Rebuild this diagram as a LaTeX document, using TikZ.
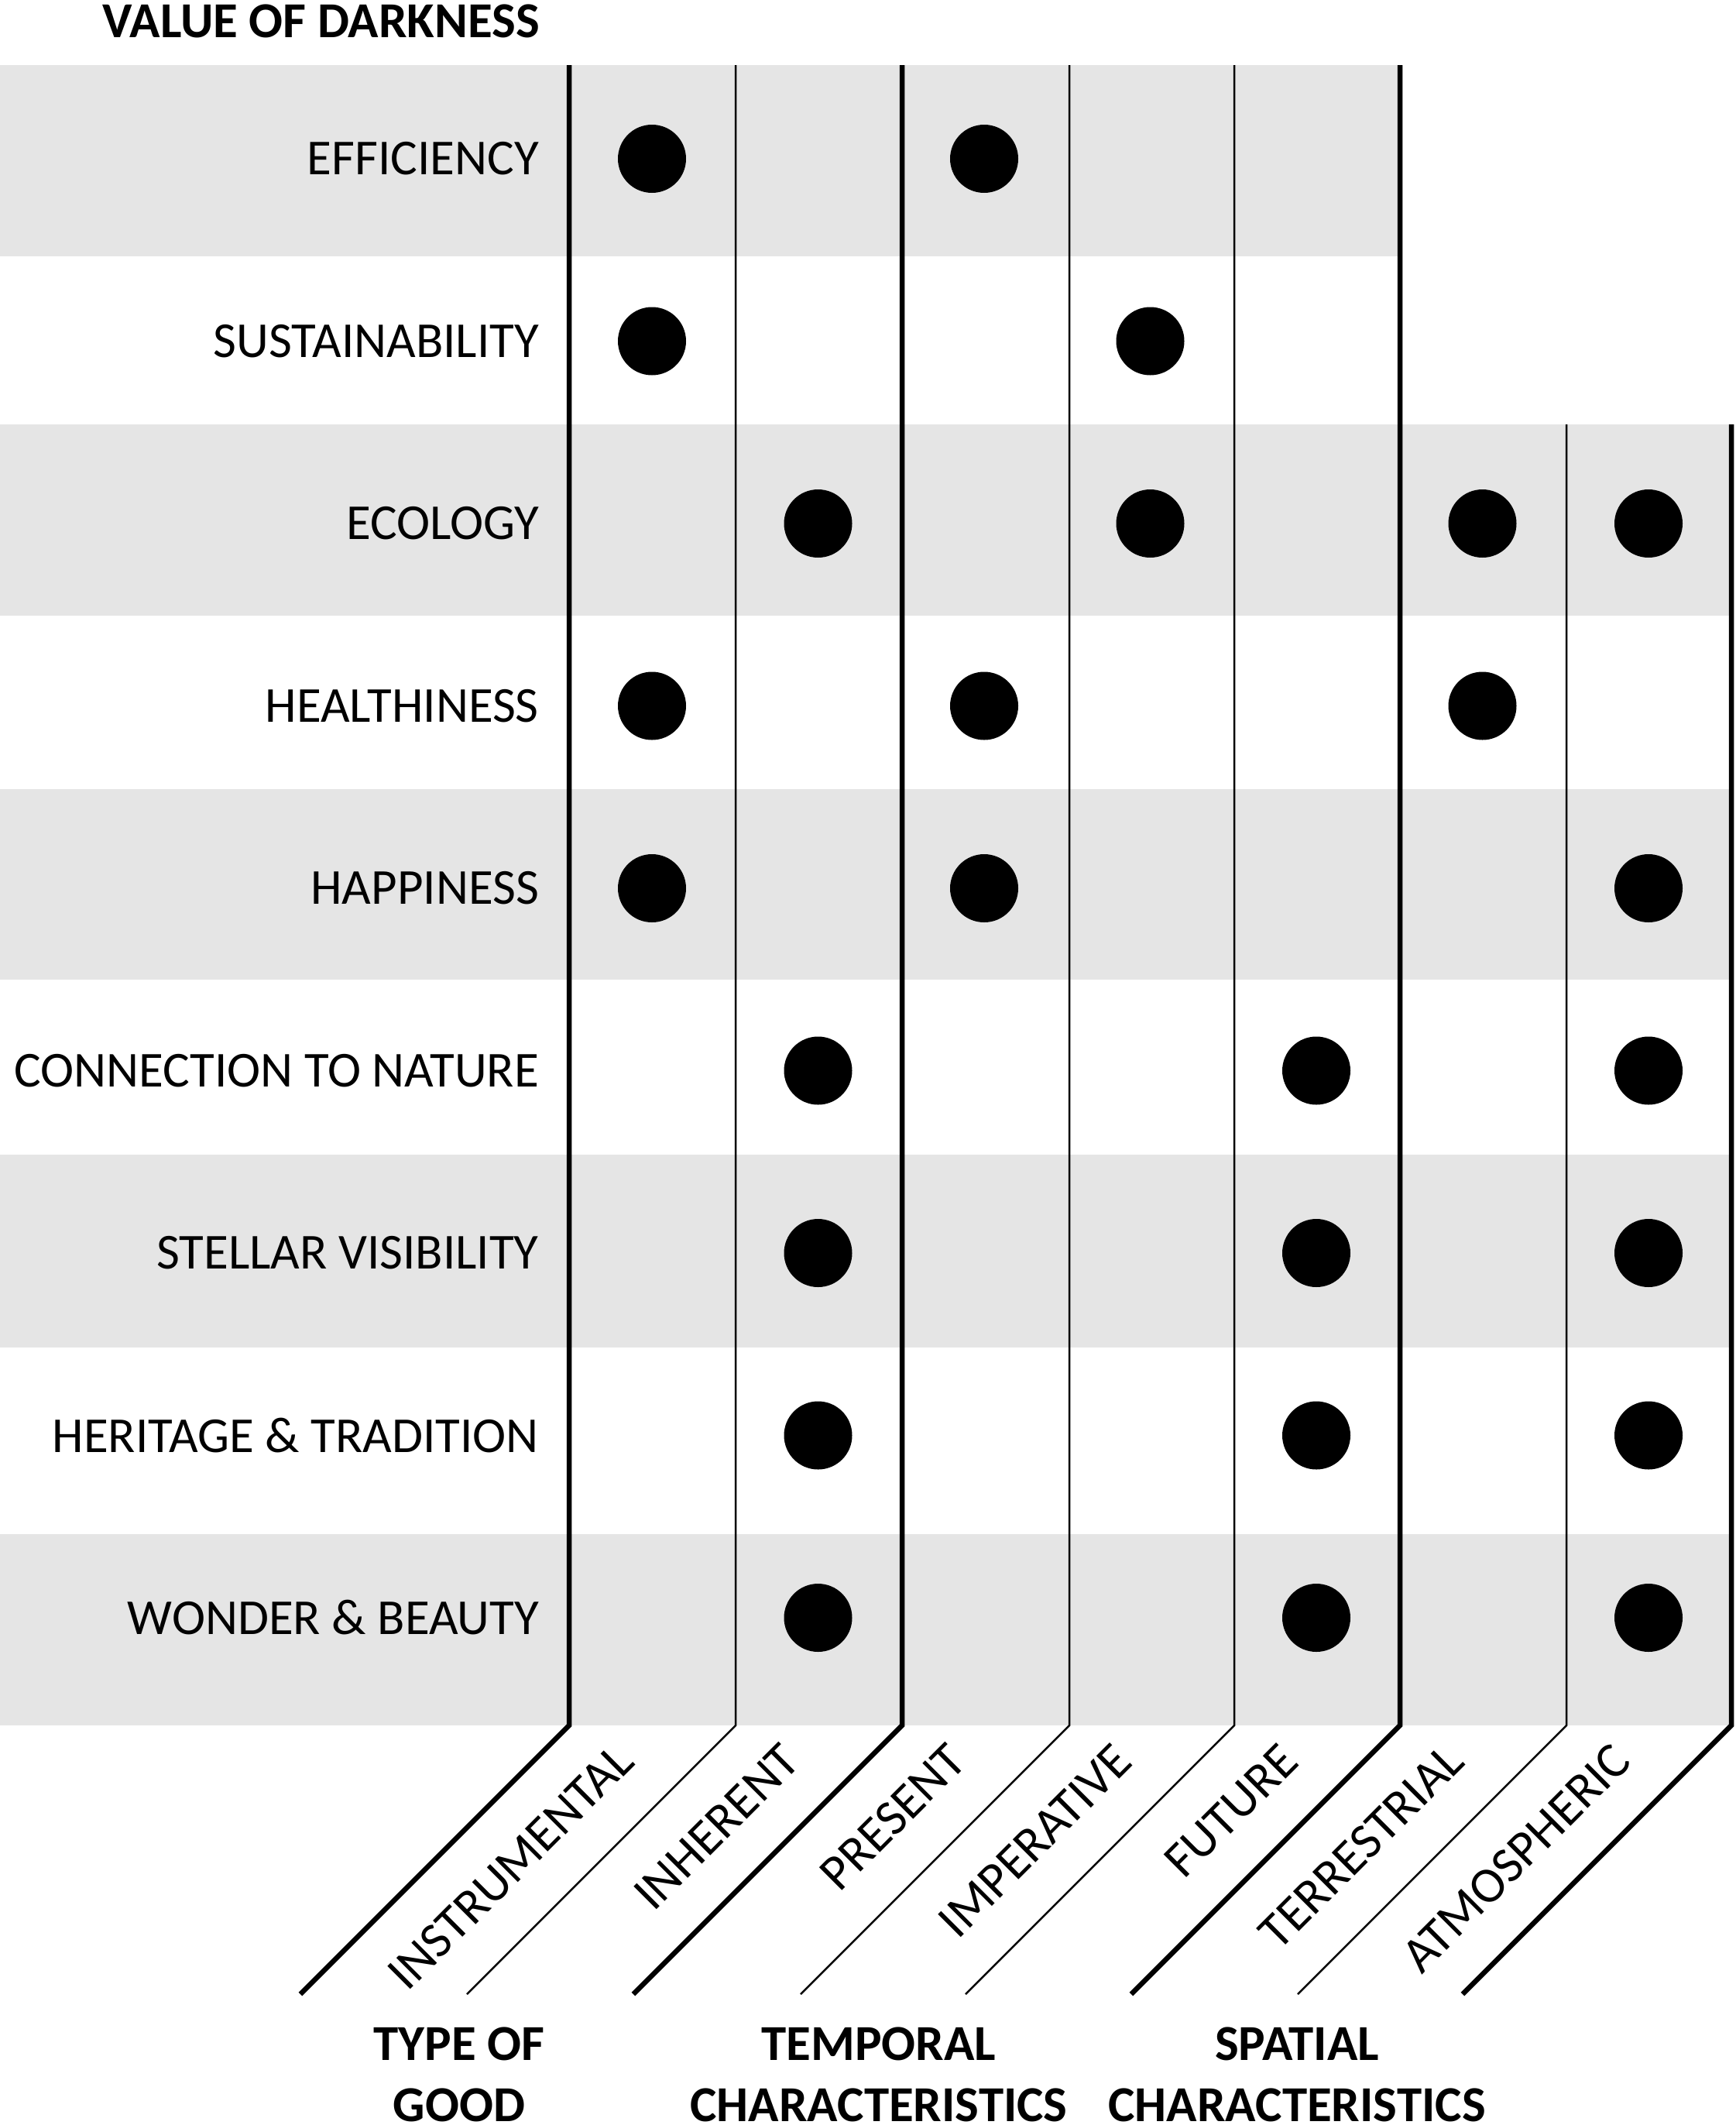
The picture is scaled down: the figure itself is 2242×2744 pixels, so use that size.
\documentclass[tikz,border=0pt]{standalone}
\usepackage{fontspec}
\setmainfont{Carlito}
\usetikzlibrary{positioning,calc}

\begin{document}
\begin{tikzpicture}[
    x=1pt, y=-1pt,
    % Estilos dos nós
    every node/.style={font=\fontsize{65}{78}\selectfont, inner sep=0pt},
    rowlabel/.style={anchor=east},
    collabel/.style={anchor=east, rotate=45},
    grouplabel/.style={font=\fontsize{65}{79}\selectfont\bfseries, align=center},
    band/.style={fill=gray!20, draw=none},
    major/.style={line width=6.5pt},
    minor/.style={line width=2.5pt},
    dot/.style={circle, fill=black, minimum size=88pt, inner sep=0pt}
]
\useasboundingbox (0,0) rectangle (2242,2744);

% Faixas cinzentas
\fill[band] (0,84) rectangle (1808,331);
\foreach \t/\b in {548/795, 1019/1265, 1491/1740, 1981/2228}
    \fill[band] (0,\t) rectangle (2236,\b);

% Linhas das colunas
\foreach \x/\top/\w in {735/84/major, 950/84/minor, 1165/84/major,
                        1381/84/minor, 1594/84/minor, 1808/84/major,
                        2023/548/minor, 2236/548/major}
    \draw[\w] (\x,\top) -- (\x,2228) -- ++(-347,347);

% Título
\node[font=\fontsize{65}{78}\selectfont\bfseries, anchor=east] (title) at (697,27) {VALUE OF DARKNESS};

% Valores (linhas)
\foreach \name [count=\i from 0] in {EFFICIENCY, SUSTAINABILITY, ECOLOGY,
        HEALTHINESS, HAPPINESS, CONNECTION TO NATURE, STELLAR VISIBILITY,
        HERITAGE \& TRADITION, WONDER \& BEAUTY}
    \node[rowlabel] (row\i) at (696, 205+235.5*\i) {\name};

% Características (colunas)
\foreach \name [count=\c from 0] in {INSTRUMENTAL, INHERENT, PRESENT,
        IMPERATIVE, FUTURE, TERRESTRIAL, ATMOSPHERIC}
    \node[collabel] (col\c) at (842+214.5*\c-35, 2228+35) {\name};

% Pontos
\foreach \r/\c in {0/0, 0/2, 1/0, 1/3, 2/1, 2/3, 2/5, 2/6,
                   3/0, 3/2, 3/5, 4/0, 4/2, 4/6, 5/1, 5/4, 5/6,
                   6/1, 6/4, 6/6, 7/1, 7/4, 7/6, 8/1, 8/4, 8/6}
    \node[dot] (dot-\r-\c) at (842+214.5*\c, 205+235.5*\r) {};

% Grupos
\node[grouplabel] (typegood) at (593,2679) {TYPE OF\\GOOD};
\node[grouplabel] (temporal) at (1135,2679) {TEMPORAL\\CHARACTERISTICS};
\node[grouplabel] (spatial) at (1675,2679) {SPATIAL\\CHARACTERISTICS};

\end{tikzpicture}
\end{document}
